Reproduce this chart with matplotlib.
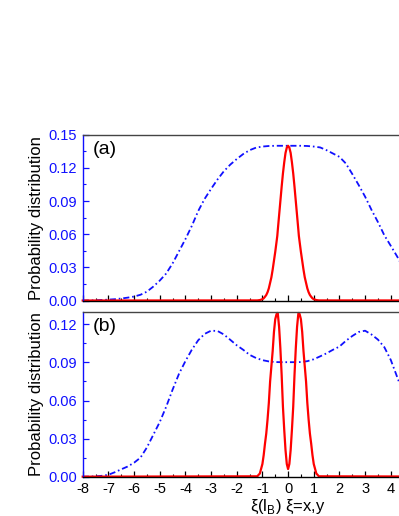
import matplotlib
matplotlib.use("Agg")
import matplotlib.pyplot as plt
from matplotlib.ticker import MultipleLocator

plt.rcParams["font.family"] = ["Liberation Sans", "DejaVu Sans"]
plt.rcParams["mathtext.fontset"] = "custom"
plt.rcParams["mathtext.rm"] = "Liberation Sans"
plt.rcParams["axes.unicode_minus"] = False

# ── Data ──────────────────────────────────────────────────────────────────────

# blue dash-dot curves, sampled every 0.25
blue_x = [-8.00, -7.75, -7.50, -7.25, -7.00, -6.75, -6.50, -6.25, -6.00, -5.75,
          -5.50, -5.25, -5.00, -4.75, -4.50, -4.25, -4.00, -3.75, -3.50, -3.25,
          -3.00, -2.75, -2.50, -2.25, -2.00, -1.75, -1.50, -1.25, -1.00, -0.75,
          -0.50, -0.25, 0.00, 0.25, 0.50, 0.75, 1.00, 1.25, 1.50, 1.75,
          2.00, 2.25, 2.50, 2.75, 3.00, 3.25, 3.50, 3.75, 4.00, 4.25,
          4.50, 4.75, 5.00]
blue_a = [0.0000, 0.0001, 0.0002, 0.0005, 0.0008, 0.0012, 0.0018, 0.0026, 0.0036, 0.0052,
          0.0080, 0.0126, 0.0180, 0.0244, 0.0335, 0.0445, 0.0555, 0.0675, 0.0810, 0.0920,
          0.1010, 0.1095, 0.1170, 0.1230, 0.1280, 0.1325, 0.1360, 0.1383, 0.1393, 0.1398,
          0.1400, 0.1400, 0.1400, 0.1400, 0.1400, 0.1398, 0.1393, 0.1385, 0.1360, 0.1330,
          0.1300, 0.1240, 0.1145, 0.1045, 0.0940, 0.0820, 0.0710, 0.0590, 0.0495, 0.0398,
          0.0290, 0.0210, 0.0150]
blue_b = [0.0000, 0.0001, 0.0003, 0.0007, 0.0015, 0.0035, 0.0058, 0.0080, 0.0110, 0.0150,
          0.0230, 0.0330, 0.0430, 0.0550, 0.0685, 0.0810, 0.0910, 0.1000, 0.1075, 0.1125,
          0.1150, 0.1148, 0.1120, 0.1078, 0.1035, 0.1000, 0.0960, 0.0935, 0.0918, 0.0908,
          0.0903, 0.0902, 0.0902, 0.0902, 0.0903, 0.0910, 0.0925, 0.0948, 0.0972, 0.1000,
          0.1025, 0.1070, 0.1108, 0.1140, 0.1150, 0.1120, 0.1080, 0.1020, 0.0920, 0.0785,
          0.0650, 0.0520, 0.0400]

# red solid curves, sampled every 0.05 near the centre
red_x = [-8.00, -1.20, -1.10, -1.00, -0.95, -0.90, -0.85, -0.80, -0.75, -0.70,
         -0.65, -0.60, -0.55, -0.50, -0.45, -0.42, -0.40, -0.35, -0.30, -0.25,
         -0.20, -0.15, -0.10, -0.05, 0.00, 0.05, 0.10, 0.15, 0.20, 0.25,
         0.30, 0.35, 0.40, 0.42, 0.45, 0.50, 0.55, 0.60, 0.65, 0.70,
         0.75, 0.80, 0.85, 0.90, 0.95, 1.00, 1.10, 1.20, 8.00]
red_a = [0.0, 0.0001, 0.0004, 0.0012, 0.0020, 0.0034, 0.0050, 0.0075, 0.0110, 0.0160,
         0.0210, 0.0280, 0.0360, 0.0440, 0.0530, 0.0585, 0.0640, 0.0770, 0.0900, 0.1030,
         0.1150, 0.1250, 0.1335, 0.1383, 0.1400, 0.1383, 0.1335, 0.1250, 0.1150, 0.1030,
         0.0900, 0.0770, 0.0640, 0.0585, 0.0530, 0.0440, 0.0360, 0.0280, 0.0210, 0.0160,
         0.0110, 0.0075, 0.0050, 0.0034, 0.0020, 0.0012, 0.0004, 0.0001, 0.0]
red_b = [0.0, 0.0003, 0.0025, 0.0100, 0.0170, 0.0260, 0.0340, 0.0450, 0.0580, 0.0750,
         0.0870, 0.0990, 0.1140, 0.1240, 0.1280, 0.1290, 0.1285, 0.1180, 0.1010, 0.0800,
         0.0550, 0.0370, 0.0210, 0.0100, 0.0060, 0.0100, 0.0210, 0.0370, 0.0550, 0.0800,
         0.1010, 0.1180, 0.1285, 0.1290, 0.1280, 0.1240, 0.1140, 0.0990, 0.0870, 0.0750,
         0.0580, 0.0450, 0.0340, 0.0260, 0.0170, 0.0100, 0.0025, 0.0003, 0.0]

# only the ticks that fall inside the cropped picture
xticks = list(range(-8, 5))
yticks_a = [0.00, 0.03, 0.06, 0.09, 0.12, 0.15]
yticks_b = [0.00, 0.03, 0.06, 0.09, 0.12]

# ── Figure ────────────────────────────────────────────────────────────────────

fig = plt.figure(figsize=(3.99, 5.16), dpi=100)
# the x axis runs -8..8 but the picture is cut at about x=4.4
ax1 = fig.add_axes([0.2073, 0.4176, 1.0294, 0.3213])
ax2 = fig.add_axes([0.2073, 0.0762, 1.0294, 0.3198])

dash = (0, (3.4, 1.6, 0.9, 1.6))
for ax, by, ry, ymax, yt, tag in [(ax1, blue_a, red_a, 0.15, yticks_a, "(a)"),
                                  (ax2, blue_b, red_b, 0.13, yticks_b, "(b)")]:
    ax.plot(blue_x, by, color="#1010ff", lw=1.3, ls=dash)
    ax.plot(red_x, ry, color="red", lw=1.6, clip_on=False)
    ax.set_xlim(-8, 8)
    ax.set_ylim(0, ymax)
    ax.set_xticks(xticks)
    ax.xaxis.set_minor_locator(MultipleLocator(0.5))
    ax.set_yticks(yt)
    ax.set_yticklabels([f"{v:.2f}" for v in yt])
    ax.yaxis.set_minor_locator(MultipleLocator(0.015))
    ax.tick_params(which="both", direction="in", top=False, right=False)
    ax.tick_params(which="major", length=4.5, width=0.9)
    ax.tick_params(which="minor", length=2.5, width=0.8)
    ax.tick_params(axis="y", which="both", colors="#1010ff", labelsize=10.5, pad=4)
    ax.tick_params(axis="x", labelsize=10.5, pad=4)
    ax.spines["left"].set_color("#1010ff")
    ax.spines["top"].set_color("#444444")
    for s in ax.spines.values():
        s.set_linewidth(1.0)
    ax.set_ylabel("Probability distribution", fontsize=12, labelpad=3)
    ax.text(0.025, 0.96, tag, transform=ax.transAxes, ha="left", va="top",
            fontsize=14)

ax1.tick_params(axis="x", labelbottom=False)
ax2.set_xlabel(r"ξ(l$_{\rm B}$) ξ=x,y", fontsize=12, labelpad=1)

fig.savefig("out.png", dpi=100)
